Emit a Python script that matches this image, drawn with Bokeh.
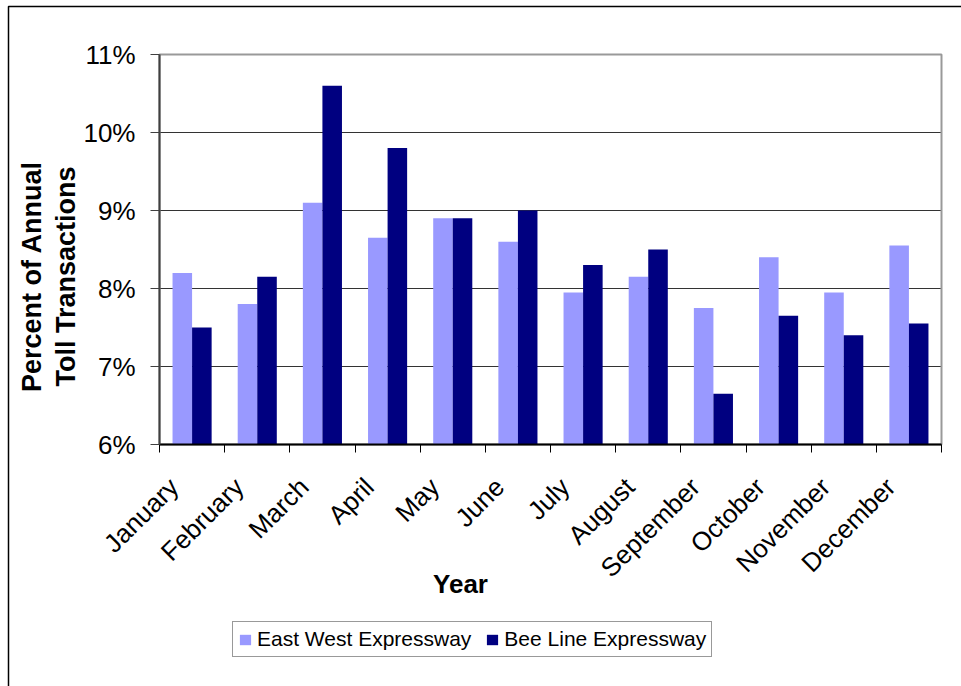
import math
from bokeh.plotting import figure
from bokeh.models import (Range1d, FixedTicker, PrintfTickFormatter, Legend, LegendItem,
                          Label, BoxAnnotation, ColumnDataSource)
from bokeh.embed import file_html
from bokeh.resources import INLINE

months = ["January", "February", "March", "April", "May", "June", "July",
          "August", "September", "October", "November", "December"]
east_west = [8.2, 7.8, 9.1, 8.65, 8.9, 8.6, 7.95, 8.15, 7.75, 8.4, 7.95, 8.55]
bee_line = [7.5, 8.15, 10.6, 9.8, 8.9, 9.0, 8.3, 8.5, 6.65, 7.65, 7.4, 7.55]
y_ticks = [6, 7, 8, 9, 10, 11]
Y_MIN, Y_MAX = 6, 11

FONT = "Liberation Sans"
EW_COLOR = "#9999FF"
BL_COLOR = "#000080"

# page size and the pixel box of the plotting area inside it
W, H = 961, 686
AREA_L, AREA_R, AREA_T, AREA_B = 159, 941, 54, 444

n = len(months)
ux = n / (AREA_R - AREA_L)
uy = (Y_MAX - Y_MIN) / (AREA_B - AREA_T)
x_range = Range1d(-AREA_L * ux, n + (W - AREA_R) * ux)
y_range = Range1d(Y_MIN - (H - AREA_B) * uy, Y_MAX + AREA_T * uy)

centers = [i + 0.5 for i in range(n)]
label_pos = [c - 0.28 for c in centers]
src = ColumnDataSource(dict(
    ew_x=[c - 0.15 for c in centers], bl_x=[c + 0.15 for c in centers],
    ew=east_west, bl=bee_line,
))

p = figure(width=W, height=H, output_backend="svg", toolbar_location=None,
           title=None, x_range=x_range, y_range=y_range, min_border=0)
p.background_fill_color = "white"
p.border_fill_color = "white"
p.outline_line_color = None
p.xgrid.grid_line_color = None
p.ygrid.grid_line_color = None

# horizontal gridlines, limited to the plotting area
grid_y = y_ticks[1:-1]
p.segment(x0=[0] * len(grid_y), x1=[n] * len(grid_y), y0=grid_y, y1=grid_y,
          line_color="#333333", line_width=1, level="underlay")

# plotting-area border
p.add_layout(BoxAnnotation(left=0, right=n, bottom=Y_MIN, top=Y_MAX,
                           fill_alpha=0, line_color="#999999", line_alpha=1,
                           line_width=2, level="underlay"))

r_ew = p.vbar(x="ew_x", top="ew", bottom=Y_MIN, width=0.3, source=src,
              fill_color=EW_COLOR, line_color=None)
r_bl = p.vbar(x="bl_x", top="bl", bottom=Y_MIN, width=0.3, source=src,
              fill_color=BL_COLOR, line_color=None)

# y axis
yax = p.yaxis[0]
yax.fixed_location = 0
yax.bounds = (Y_MIN, Y_MAX)
yax.ticker = FixedTicker(ticks=y_ticks)
yax.formatter = PrintfTickFormatter(format="%d%%")
yax.major_label_text_font = FONT
yax.major_label_text_font_size = "26px"
yax.major_label_text_color = "black"
yax.major_tick_out = 9
yax.major_tick_in = 0
yax.minor_tick_out = 0
yax.minor_tick_in = 0
yax.major_tick_line_color = "#404040"
yax.axis_line_color = "#404040"
yax.axis_line_width = 2
yax.major_label_standoff = 15

# x axis: month names, tick marks at month boundaries
xax = p.xaxis[0]
xax.fixed_location = Y_MIN
xax.bounds = (0, n)
xax.ticker = FixedTicker(ticks=label_pos, minor_ticks=list(range(n + 1)))
xax.major_label_overrides = {c: m for c, m in zip(label_pos, months)}
xax.major_label_orientation = math.pi / 4
xax.major_label_text_font = FONT
xax.major_label_text_font_size = "26px"
xax.major_label_text_color = "black"
xax.major_tick_out = 0
xax.major_tick_in = 0
xax.minor_tick_out = 8
xax.minor_tick_in = 0
xax.minor_tick_line_color = "black"
xax.axis_line_color = "black"
xax.axis_line_width = 2
xax.major_label_standoff = 30

# axis titles (screen units, measured from the bottom-left corner)
title_style = dict(x_units="screen", y_units="screen", text_font=FONT,
                   text_font_style="bold", text_color="black",
                   text_align="center", text_baseline="middle")
p.add_layout(Label(x=460, y=H - 583, text="Year", text_font_size="26px",
                   **title_style))
p.add_layout(Label(x=31, y=H - 276, text="Percent of Annual", angle=math.pi / 2,
                   text_font_size="27px", **title_style))
p.add_layout(Label(x=65, y=H - 276, text="Toll Transactions", angle=math.pi / 2,
                   text_font_size="27px", **title_style))

legend = Legend(items=[LegendItem(label="East West Expressway", renderers=[r_ew]),
                       LegendItem(label="Bee Line Expressway", renderers=[r_bl])],
                location=(232, H - 657), orientation="horizontal",
                label_text_font=FONT, label_text_font_size="21px",
                label_text_color="black",
                glyph_width=14, glyph_height=13, label_standoff=5, spacing=14,
                padding=5, margin=0,
                border_line_color="#333333", border_line_width=1,
                background_fill_color="white", background_fill_alpha=1)
p.add_layout(legend)

# chart border (its right and bottom edges fall past the page)
p.add_layout(BoxAnnotation(left=8, right=W + 40, top=H - 6, bottom=-40,
                           left_units="screen", right_units="screen",
                           top_units="screen", bottom_units="screen",
                           fill_alpha=0, line_color="black", line_alpha=1,
                           line_width=1.5))

open("out.html", "w").write(file_html(p, INLINE))
